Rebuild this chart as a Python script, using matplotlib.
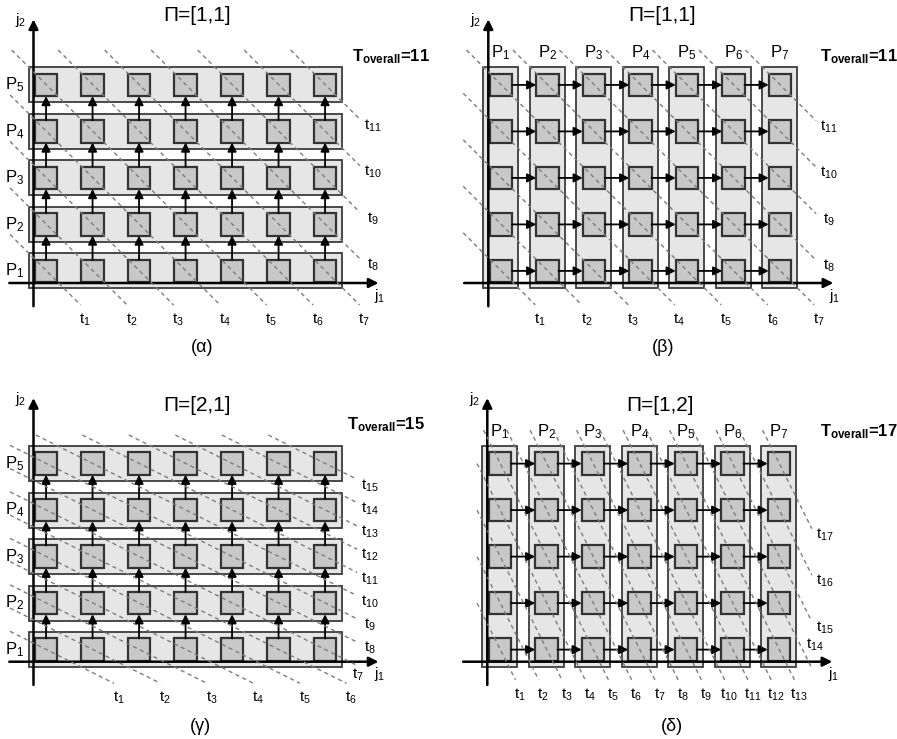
import matplotlib
matplotlib.use('Agg')
import matplotlib.pyplot as plt
from matplotlib.patches import Rectangle

plt.rcParams['font.family'] = ['Liberation Sans Narrow', 'Liberation Sans', 'DejaVu Sans']
plt.rcParams['mathtext.fontset'] = 'custom'
plt.rcParams['mathtext.rm'] = 'Liberation Sans'
plt.rcParams['mathtext.bf'] = 'Liberation Sans:bold'
plt.rcParams['mathtext.default'] = 'regular'

# ---- data ----
J1 = [1, 2, 3, 4, 5, 6, 7]
J2 = [1, 2, 3, 4, 5]
CAPTIONS = ['(α)', '(β)', '(γ)', '(δ)']
PI = [(1, 1), (1, 1), (2, 1), (1, 2)]
T_OVERALL = [11, 11, 15, 17]
PROC_DIR = ['rows', 'cols', 'rows', 'cols']   # processors along j1 rows or j2 columns

# ---- layout (pixels / data units) ----
W, H, U = 897, 739, 46.5
ORIGINS = [(33.5, 283), (488.3, 283), (33.5, 661.7), (487.3, 661.7)]
CLIP = [(-0.505, 7.02, -0.473, 5.01), (-0.54, 7.05, -0.47, 5.01),
        (-0.505, 6.96, -0.465, 4.875), (-0.22, 6.98, -0.39, 4.98)]
TITLE_POS = [(3.52, 5.76), (3.73, 5.76), (3.52, 5.52), (3.71, 5.52)]
TOVER_POS = [(6.85, 4.86), (7.13, 4.86), (6.74, 5.09), (7.15, 4.94)]
CAPT_POS = [(3.62, -1.38), (3.76, -1.38), (3.58, -1.40), (3.97, -1.40)]
LABEL_FIX = {(2, 7): (0.02, -0.2), (3, 14): (0.07, 0.5)}

CELL, CX0, CY0, MARGIN = 0.48, 0.03, 0.02, 0.135
BAND_FC, BAND_EC = '#e6e6e6', '#3c3c3c'
CELL_FC, CELL_EC = '#c8c8c8', '#333333'
DASH_C = '#7d7d7d'

fig = plt.figure(figsize=(W / 100, H / 100), dpi=100)

for p in range(4):
    ox, oy = ORIGINS[p]
    ax = fig.add_axes([0, 0, 1, 1])
    ax.set_xlim(-ox / U, (W - ox) / U)
    ax.set_ylim((oy - H) / U, oy / U)
    ax.axis('off')
    ax.patch.set_alpha(0)

    # processor bands
    span = J1[-1] - 1 if PROC_DIR[p] == 'rows' else J2[-1] - 1
    if PROC_DIR[p] == 'rows':
        for j in J2:
            ax.add_patch(Rectangle((CX0 - MARGIN, j - 1 + CY0 - MARGIN),
                                   span + CELL + 2 * MARGIN, CELL + 2 * MARGIN,
                                   fc=BAND_FC, ec=BAND_EC, lw=1.3, zorder=1))
            ax.text(-0.2, j - 1 + CY0 + CELL / 2, 'P$_{%d}$' % j, fontsize=12,
                    ha='right', va='center')
    else:
        for i in J1:
            ax.add_patch(Rectangle((i - 1 + CX0 - MARGIN, CY0 - MARGIN),
                                   CELL + 2 * MARGIN, span + CELL + 2 * MARGIN,
                                   fc=BAND_FC, ec=BAND_EC, lw=1.3, zorder=1))
            ax.text(i - 1 + CX0 + CELL / 2, 4.95, 'P$_{%d}$' % i, fontsize=12,
                    ha='center', va='center')

    # axes j1, j2
    ax.annotate('', xy=(7.42, 0), xytext=(-0.52, 0),
                arrowprops=dict(arrowstyle='-|>', mutation_scale=14, lw=1.8,
                                color='k', shrinkA=0, shrinkB=0), zorder=4)
    ax.annotate('', xy=(0, 5.67), xytext=(0, -0.5),
                arrowprops=dict(arrowstyle='-|>', mutation_scale=14, lw=1.8,
                                color='k', shrinkA=0, shrinkB=0), zorder=4)
    ax.text(7.45, -0.27, 'j$_1$', fontsize=11, ha='center', va='center')
    ax.text(-0.27, 5.65, 'j$_2$', fontsize=11, ha='center', va='center')

    # index points and dependencies
    for i in J1:
        for j in J2:
            x0, y0 = i - 1 + CX0, j - 1 + CY0
            ax.add_patch(Rectangle((x0, y0), CELL, CELL, fc=CELL_FC, ec=CELL_EC,
                                   lw=1.6, zorder=3))
            if PROC_DIR[p] == 'rows' and j < J2[-1]:
                ax.annotate('', xy=(x0 + CELL / 2, y0 + 1), xytext=(x0 + CELL / 2, y0 + CELL),
                            arrowprops=dict(arrowstyle='-|>', mutation_scale=13, lw=1.3,
                                            color='k', shrinkA=0, shrinkB=0), zorder=5)
            if PROC_DIR[p] == 'cols' and i < J1[-1]:
                ax.annotate('', xy=(x0 + 1, y0 + CELL / 2), xytext=(x0 + CELL, y0 + CELL / 2),
                            arrowprops=dict(arrowstyle='-|>', mutation_scale=13, lw=1.3,
                                            color='k', shrinkA=0, shrinkB=0), zorder=5)

    # hyperplanes (time steps)
    w1, w2 = PI[p][1], PI[p][0]
    xl, xr, yb, yt = CLIP[p]
    for k in range(1, T_OVERALL[p] + 1):
        c = (k - 1) + w1 * (CX0 + CELL / 2 + 0.01) + w2 * (CY0 + CELL / 2)
        xs = max(xl, (c - w2 * yt) / w1)
        ys = (c - w1 * xs) / w2
        xb = (c - w2 * yb) / w1
        if xb <= xr:
            xe, ye = xb, yb
            lx, ly = xe + 0.1, ye - 0.32
        else:
            xe, ye = xr, (c - w1 * xr) / w2
            lx, ly = xe + 0.28, ye - 0.13
        if (p, k) in LABEL_FIX:
            dx, dy = LABEL_FIX[(p, k)]
            lx, ly = xe + dx, ye + dy
        ax.plot([xs, xe], [ys, ye], color=DASH_C, lw=1.0,
                linestyle=(0, (3, 2.5)), zorder=6)
        ax.text(lx, ly, 't$_{%d}$' % k, fontsize=11, ha='center', va='center')

    ax.text(*TITLE_POS[p], 'Π=[%d,%d]' % PI[p], fontsize=15, ha='center', va='center')
    ax.text(*TOVER_POS[p], r'T$_{\mathbf{overall}}$=%d' % T_OVERALL[p], fontsize=12,
            fontweight='bold', ha='left', va='center')
    ax.text(*CAPT_POS[p], CAPTIONS[p], fontsize=13, ha='center', va='center')

fig.savefig('out.png', dpi=100)
